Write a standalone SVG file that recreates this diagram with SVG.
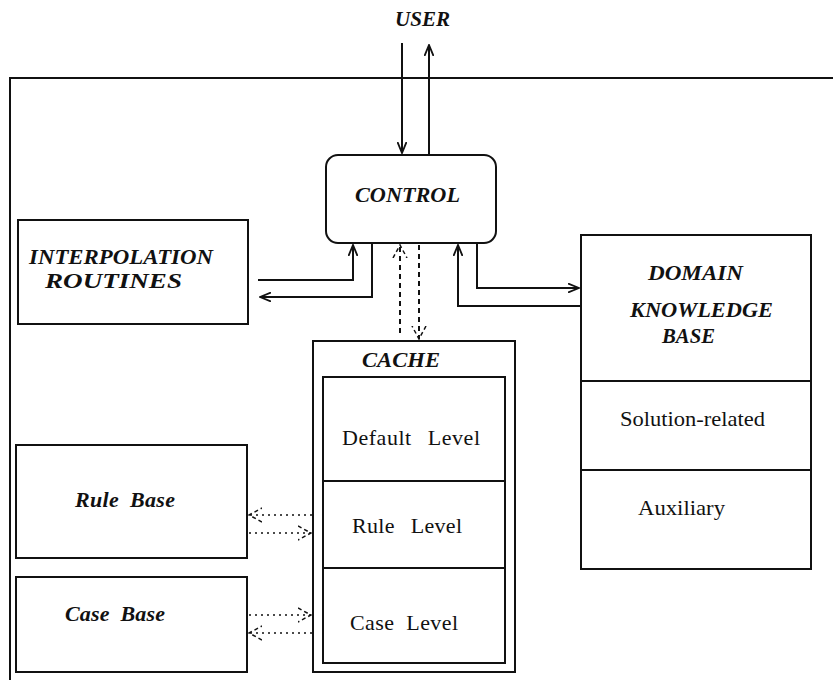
<svg xmlns="http://www.w3.org/2000/svg" width="833" height="680" viewBox="0 0 833 680">
<style>
.box{fill:none;stroke:#111;stroke-width:2}
.ln{fill:none;stroke:#111;stroke-width:2}
.thin{fill:none;stroke:#111;stroke-width:2}
.dash{fill:none;stroke:#111;stroke-width:2;stroke-dasharray:5 4}
.dot{fill:none;stroke:#111;stroke-width:1.5;stroke-dasharray:2 4}
.bi{font-family:"Liberation Serif","Times New Roman",serif;font-weight:bold;font-style:italic;font-size:22px;fill:#111}
.rg{font-family:"Liberation Serif","Times New Roman",serif;font-size:22px;fill:#111}
</style>
<defs>
<marker id="ah" viewBox="0 0 12 10" refX="11" refY="5" markerWidth="12" markerHeight="10" markerUnits="userSpaceOnUse" orient="auto">
<path d="M0,0.5 L11,5 L0,9.5" fill="none" stroke="#111" stroke-width="1.8"/>
</marker>
<marker id="ahd" viewBox="0 0 14 16" refX="13" refY="8" markerWidth="14" markerHeight="16" markerUnits="userSpaceOnUse" orient="auto">
<path d="M0,1 L13,8 L0,15" fill="none" stroke="#111" stroke-width="1.5" stroke-dasharray="4 3"/>
</marker>
</defs>
<rect width="833" height="680" fill="#fff"/>
<path class="ln" d="M10,680 L10,78 L833,78"/>
<g id="user"><text class="bi" x="395" y="26" textLength="55" lengthAdjust="spacingAndGlyphs">USER</text></g>
<g id="control">
<rect class="box" x="326" y="155" width="170" height="88" rx="12"/>
<text class="bi" x="355" y="202" textLength="105" lengthAdjust="spacingAndGlyphs">CONTROL</text>
</g>
<g id="interpolation">
<rect class="box" x="18" y="220" width="230" height="104"/>
<text class="bi" x="29" y="264" font-size="20" textLength="184" lengthAdjust="spacingAndGlyphs">INTERPOLATION</text>
<text class="bi" x="45" y="288" font-size="20" textLength="137" lengthAdjust="spacingAndGlyphs">ROUTINES</text>
</g>
<g id="domain">
<rect class="box" x="581" y="235" width="230" height="334"/>
<line class="ln" x1="581" y1="381" x2="811" y2="381"/>
<line class="ln" x1="581" y1="470" x2="811" y2="470"/>
<text class="bi" x="648" y="280" textLength="95" lengthAdjust="spacingAndGlyphs">DOMAIN</text>
<text class="bi" x="630" y="317" textLength="143" lengthAdjust="spacingAndGlyphs">KNOWLEDGE</text>
<text class="bi" x="662" y="343" textLength="53" lengthAdjust="spacingAndGlyphs">BASE</text>
<text class="rg" x="620" y="426" textLength="145" lengthAdjust="spacingAndGlyphs">Solution-related</text>
<text class="rg" x="638" y="515" textLength="87" lengthAdjust="spacingAndGlyphs">Auxiliary</text>
</g>
<g id="cache">
<rect class="box" x="313" y="341" width="202" height="331"/>
<rect class="box" x="323" y="377" width="182" height="286"/>
<line class="ln" x1="323" y1="481" x2="505" y2="481"/>
<line class="ln" x1="323" y1="568" x2="505" y2="568"/>
<text class="bi" x="362" y="367" textLength="78" lengthAdjust="spacingAndGlyphs">CACHE</text>
<text class="rg" x="342" y="445" textLength="138" lengthAdjust="spacing" word-spacing="10">Default Level</text>
<text class="rg" x="352" y="533" textLength="110" lengthAdjust="spacing" word-spacing="10">Rule Level</text>
<text class="rg" x="350" y="630" textLength="108" lengthAdjust="spacing" word-spacing="6">Case Level</text>
</g>
<g id="rulebase">
<rect class="box" x="16" y="445" width="231" height="113"/>
<text class="bi" x="75" y="507" textLength="100" lengthAdjust="spacing" word-spacing="5">Rule Base</text>
</g>
<g id="casebase">
<rect class="box" x="16" y="577" width="231" height="95"/>
<text class="bi" x="65" y="621" textLength="100" lengthAdjust="spacing" word-spacing="5">Case Base</text>
</g>
<g id="connectors">
<line class="thin" x1="402" y1="43" x2="402" y2="153" marker-end="url(#ah)"/>
<line class="thin" x1="429" y1="154" x2="429" y2="45" marker-end="url(#ah)"/>
<polyline class="ln" points="258,280 353,280 353,245" marker-end="url(#ah)"/>
<polyline class="ln" points="372,244 372,297 260,297" marker-end="url(#ah)"/>
<line class="dash" x1="400" y1="333" x2="400" y2="245" marker-end="url(#ahd)"/>
<line class="dash" x1="419" y1="245" x2="419" y2="339" marker-end="url(#ahd)"/>
<polyline class="ln" points="580,306 458,306 458,245" marker-end="url(#ah)"/>
<polyline class="ln" points="477,244 477,288 579,288" marker-end="url(#ah)"/>
<line class="dot" x1="312" y1="515" x2="249" y2="515" marker-end="url(#ahd)"/>
<line class="dot" x1="249" y1="533" x2="311" y2="533" marker-end="url(#ahd)"/>
<line class="dot" x1="249" y1="615" x2="311" y2="615" marker-end="url(#ahd)"/>
<line class="dot" x1="312" y1="633" x2="249" y2="633" marker-end="url(#ahd)"/>
</g>
</svg>
